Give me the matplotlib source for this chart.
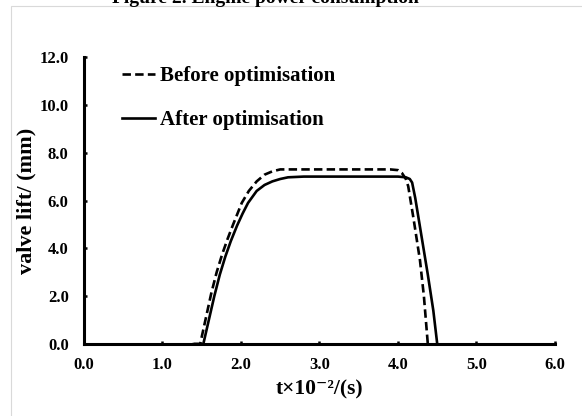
import matplotlib.pyplot as plt
from matplotlib.patches import Rectangle

# valve lift curves, t in 1e-2 s, lift in mm
t_before = [1.40, 1.48, 1.55, 1.62, 1.69, 1.76, 1.83, 1.90, 2.01, 2.10, 2.20, 2.30,
            2.40, 2.50, 3.00, 3.50, 3.90, 4.00, 4.05, 4.10, 4.13, 4.20, 4.28, 4.33, 4.38]
v_before = [0.00, 0.00, 1.05, 2.10, 3.00, 3.75, 4.40, 5.00, 5.90, 6.40, 6.80, 7.08,
            7.22, 7.30, 7.30, 7.30, 7.30, 7.27, 7.15, 6.90, 6.60, 5.20, 3.50, 2.00, 0.00]

t_after = [1.40, 1.48, 1.52, 1.59, 1.66, 1.73, 1.80, 1.87, 1.95, 2.02, 2.09, 2.20,
           2.30, 2.40, 2.50, 2.60, 2.80, 3.50, 4.00, 4.10, 4.15, 4.18, 4.22, 4.30,
           4.38, 4.45, 4.50]
v_after = [0.00, 0.00, 0.00, 1.00, 2.00, 2.90, 3.65, 4.30, 4.95, 5.45, 5.90, 6.40,
           6.65, 6.80, 6.90, 6.97, 7.00, 7.00, 7.00, 6.97, 6.90, 6.75, 6.10, 4.50,
           2.90, 1.40, 0.00]

x_ticks = [0.0, 1.0, 2.0, 3.0, 4.0, 5.0, 6.0]
y_ticks = [0.0, 2.0, 4.0, 6.0, 8.0, 10.0, 12.0]

plt.rcParams['font.family'] = ['Liberation Serif', 'DejaVu Serif']
plt.rcParams['font.weight'] = 'bold'

fig = plt.figure(figsize=(5.82, 4.16), dpi=100)
ax = fig.add_axes([0.1443, 0.173, 0.8093, 0.690])

# light grey frame, partly outside the picture
fig.patches.append(Rectangle((11 / 582, -0.1), 1.2, 1 - 6 / 416 + 0.1,
                             transform=fig.transFigure, fill=False,
                             edgecolor='#d9d9d9', lw=0.8, clip_on=False))
# caption of the page, only its lower edge shows
fig.text(265 / 582, 1 - 3 / 416, 'Figure 2. Engine power consumption',
         ha='center', va='baseline', fontsize=14, fontweight='bold')

ax.plot(t_before, v_before, color='black', lw=1.9, ls=(0, (3.2, 1.6)),
        label='Before optimisation')
ax.plot(t_after, v_after, color='black', lw=1.9, label='After optimisation')

ax.set_xlim(0, 6)
ax.set_ylim(0, 12)
ax.set_xticks(x_ticks)
ax.set_yticks(y_ticks)
ax.set_xticklabels([f'{v:.1f}' for v in x_ticks])
ax.set_yticklabels([f'{v:.1f}' for v in y_ticks])
ax.tick_params(direction='in', length=2.5, width=1.8, labelsize=12)
ax.tick_params(axis='x', pad=9)
ax.tick_params(axis='y', pad=11)

for s in ['top', 'right']:
    ax.spines[s].set_visible(False)
for s in ['left', 'bottom']:
    ax.spines[s].set_linewidth(2.2)

ax.set_xlabel('t×10⁻²/(s)', fontsize=15.5, fontweight='bold', labelpad=5)
ax.set_ylabel('valve lift/ (mm)', fontsize=16, fontweight='bold', labelpad=2)

ax.legend(loc='upper left', bbox_to_anchor=(0.08, 0.968), frameon=False,
          fontsize=15, handlelength=1.6, handletextpad=0.25, labelspacing=1.15,
          borderpad=0, borderaxespad=0)

fig.savefig('out.png', dpi=100)
